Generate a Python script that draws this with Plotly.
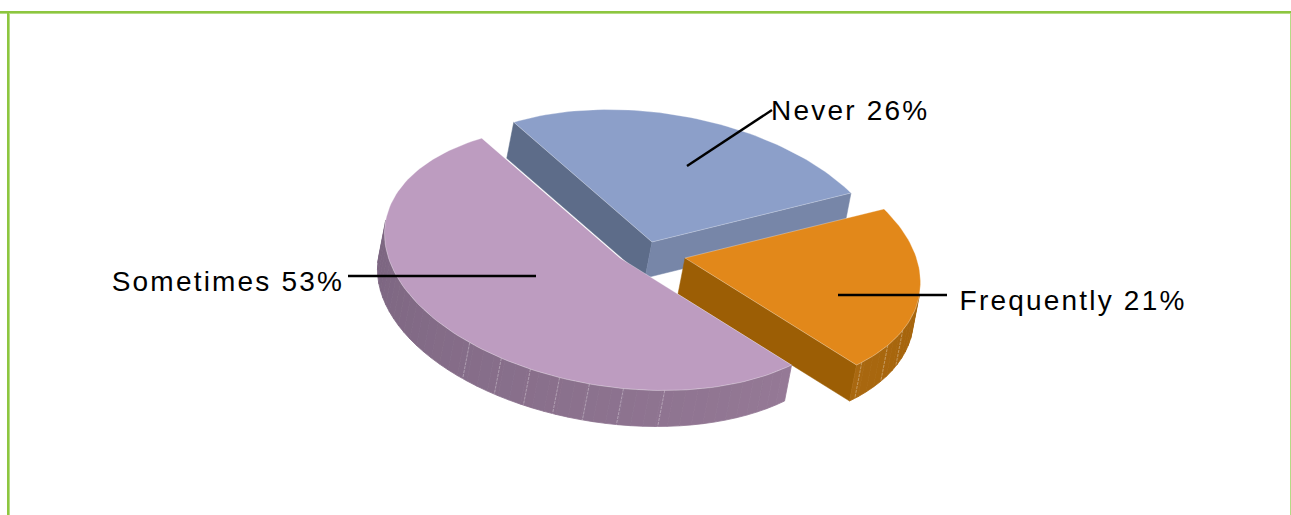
import math
import plotly.graph_objects as go

# Survey answers, in clockwise drawing order
categories = ["Frequently", "Sometimes", "Never"]
values = [21, 53, 26]

# Pie projection: the disc's two axes on screen, the extrusion vector and the disc centre
AXIS_A = (199.0, -49.0)
AXIS_B = (126.0, 123.1)
DEPTH = (-7.0, 36.0)
CENTRE = (650.0, 250.0)

# Per-slice styling and explode offset
STYLE = {
    "Frequently": dict(offset=(35, 8), top="#E2881A", cut_start="#9C5E05", cut_end="#9C5E05",
                       rim_from="#A5630A", rim_to="#A96810", facets=[54.8, 62.9, 73.7]),
    "Sometimes": dict(offset=(-30, 8), top="#BD9CC0", cut_start="#7B6580", cut_end="#7B6580",
                      rim_from="#957996", rim_to="#7B6580",
                      facets=[111.4, 121.5, 129.8, 137.2, 144.7, 152.6, 162.0]),
    "Never": dict(offset=(2, -8), top="#8C9FC9", cut_start="#5D6C89", cut_end="#7786A8",
                  rim_from="#7786A8", rim_to="#7786A8", facets=[]),
}

# Callouts: leader line ends and the label centre
CALLOUTS = {
    "Never": dict(line=((772, 110), (687, 166)), text=(850.5, 110)),
    "Frequently": dict(line=((838, 295), (947, 295)), text=(1072.5, 300)),
    "Sometimes": dict(line=((348, 276), (536, 276)), text=(227.5, 281)),
}

BORDER = "#8DC63F"
BORDER_SOFT = "#B5DC85"


def rim_vector(deg):
    t = math.radians(deg)
    return (AXIS_A[0] * math.cos(t) + AXIS_B[0] * math.sin(t),
            AXIS_A[1] * math.cos(t) + AXIS_B[1] * math.sin(t))


def cross(u, v):
    return u[0] * v[1] - u[1] * v[0]


def mix(c1, c2, f):
    a = [int(c1[i:i + 2], 16) for i in (1, 3, 5)]
    b = [int(c2[i:i + 2], 16) for i in (1, 3, 5)]
    return "#%02X%02X%02X" % tuple(round(p + (q - p) * f) for p, q in zip(a, b))


def polygon(fig, pts, fill, edge=None, width=1.0):
    fig.add_trace(go.Scatter(
        x=[p[0] for p in pts] + [pts[0][0]],
        y=[p[1] for p in pts] + [pts[0][1]],
        mode="lines", fill="toself", fillcolor=fill,
        line=dict(color=edge or fill, width=width),
        hoverinfo="skip", showlegend=False,
    ))


def add_cut_face(fig, apex, deg, colour):
    r = rim_vector(deg)
    end = (apex[0] + r[0], apex[1] + r[1])
    polygon(fig, [apex, end,
                  (end[0] + DEPTH[0], end[1] + DEPTH[1]),
                  (apex[0] + DEPTH[0], apex[1] + DEPTH[1])], colour, width=0.5)


# Angle where the disc's outline turns away from the viewer
silhouette = math.degrees(math.atan2(cross(AXIS_B, DEPTH), cross(AXIS_A, DEPTH)))
front_from, front_to = silhouette, silhouette + 180.0

fig = go.Figure()
total = sum(values)
spans = {}
angle = 0.0
for name, val in zip(categories, values):
    spans[name] = (angle, angle + 360.0 * val / total)
    angle = spans[name][1]

# Back slice first, so the nearer slices cover it
for name in ["Never", "Frequently", "Sometimes"]:
    s = STYLE[name]
    start, end = spans[name]
    apex = (CENTRE[0] + s["offset"][0], CENTRE[1] + s["offset"][1])

    if cross(rim_vector(start), DEPTH) < 0:
        add_cut_face(fig, apex, start, s["cut_start"])
    if cross(rim_vector(end), DEPTH) > 0:
        add_cut_face(fig, apex, end, s["cut_end"])

    # Outer wall, shaded in narrow bands
    lo, hi = max(start, front_from), min(end, front_to)
    if hi > lo:
        bands = max(1, int((hi - lo) / 3))
        for i in range(bands):
            t0 = lo + (hi - lo) * i / bands
            t1 = lo + (hi - lo) * (i + 1) / bands
            r0, r1 = rim_vector(t0), rim_vector(t1)
            p0 = (apex[0] + r0[0], apex[1] + r0[1])
            p1 = (apex[0] + r1[0], apex[1] + r1[1])
            polygon(fig, [p0, p1,
                          (p1[0] + DEPTH[0], p1[1] + DEPTH[1]),
                          (p0[0] + DEPTH[0], p0[1] + DEPTH[1])],
                    mix(s["rim_from"], s["rim_to"], (i + 0.5) / bands), width=0.8)
        for deg in s["facets"]:
            r = rim_vector(deg)
            p = (apex[0] + r[0], apex[1] + r[1])
            fig.add_trace(go.Scatter(
                x=[p[0], p[0] + DEPTH[0]], y=[p[1], p[1] + DEPTH[1]], mode="lines",
                line=dict(color="rgba(255,255,255,0.32)", width=1, dash="3px,1px"),
                hoverinfo="skip", showlegend=False,
            ))

    # Top face
    steps = max(2, int((end - start) / 1.5))
    arc = []
    for i in range(steps + 1):
        r = rim_vector(start + (end - start) * i / steps)
        arc.append((apex[0] + r[0], apex[1] + r[1]))
    polygon(fig, [apex] + arc, s["top"], edge="rgba(255,255,255,0.3)", width=1)

shapes = [
    # Frame around the chart: no line along the bottom
    dict(type="line", x0=0, x1=1291, y0=13.5, y1=13.5, line=dict(color=BORDER_SOFT, width=1)),
    dict(type="line", x0=0, x1=1291, y0=12, y1=12, line=dict(color=BORDER, width=2)),
    dict(type="line", x0=9.5, x1=9.5, y0=13, y1=515, line=dict(color=BORDER_SOFT, width=1)),
    dict(type="line", x0=8, x1=8, y0=11, y1=515, line=dict(color=BORDER, width=2)),
    dict(type="line", x0=1290.5, x1=1290.5, y0=13, y1=515, line=dict(color=BORDER_SOFT, width=1)),
]
annotations = []
for name, val in zip(categories, values):
    c = CALLOUTS[name]
    (x0, y0), (x1, y1) = c["line"]
    shapes.append(dict(type="line", x0=x0, y0=y0, x1=x1, y1=y1,
                       line=dict(color="#000000", width=2.4)))
    annotations.append(dict(
        x=c["text"][0], y=c["text"][1], xref="x", yref="y",
        text=f"{name} {val}%", showarrow=False,
        xanchor="center", yanchor="middle",
        font=dict(family="Liberation Sans, Arial, sans-serif", size=28, color="#000000"),
    ))

fig.update_layout(
    width=1291, height=515, autosize=False,
    margin=dict(l=0, r=0, t=0, b=0),
    paper_bgcolor="#FFFFFF", plot_bgcolor="#FFFFFF",
    showlegend=False, hovermode=False,
    xaxis=dict(range=[0, 1291], visible=False, fixedrange=True),
    yaxis=dict(range=[515, 0], visible=False, fixedrange=True),
    shapes=shapes, annotations=annotations,
)

# The labels are set slightly tracked out
fig.write_html(
    "out.html",
    config={"displayModeBar": False},
    post_script="document.querySelectorAll('.annotation-text').forEach(function(t){t.style.letterSpacing='2.2px';});",
)
